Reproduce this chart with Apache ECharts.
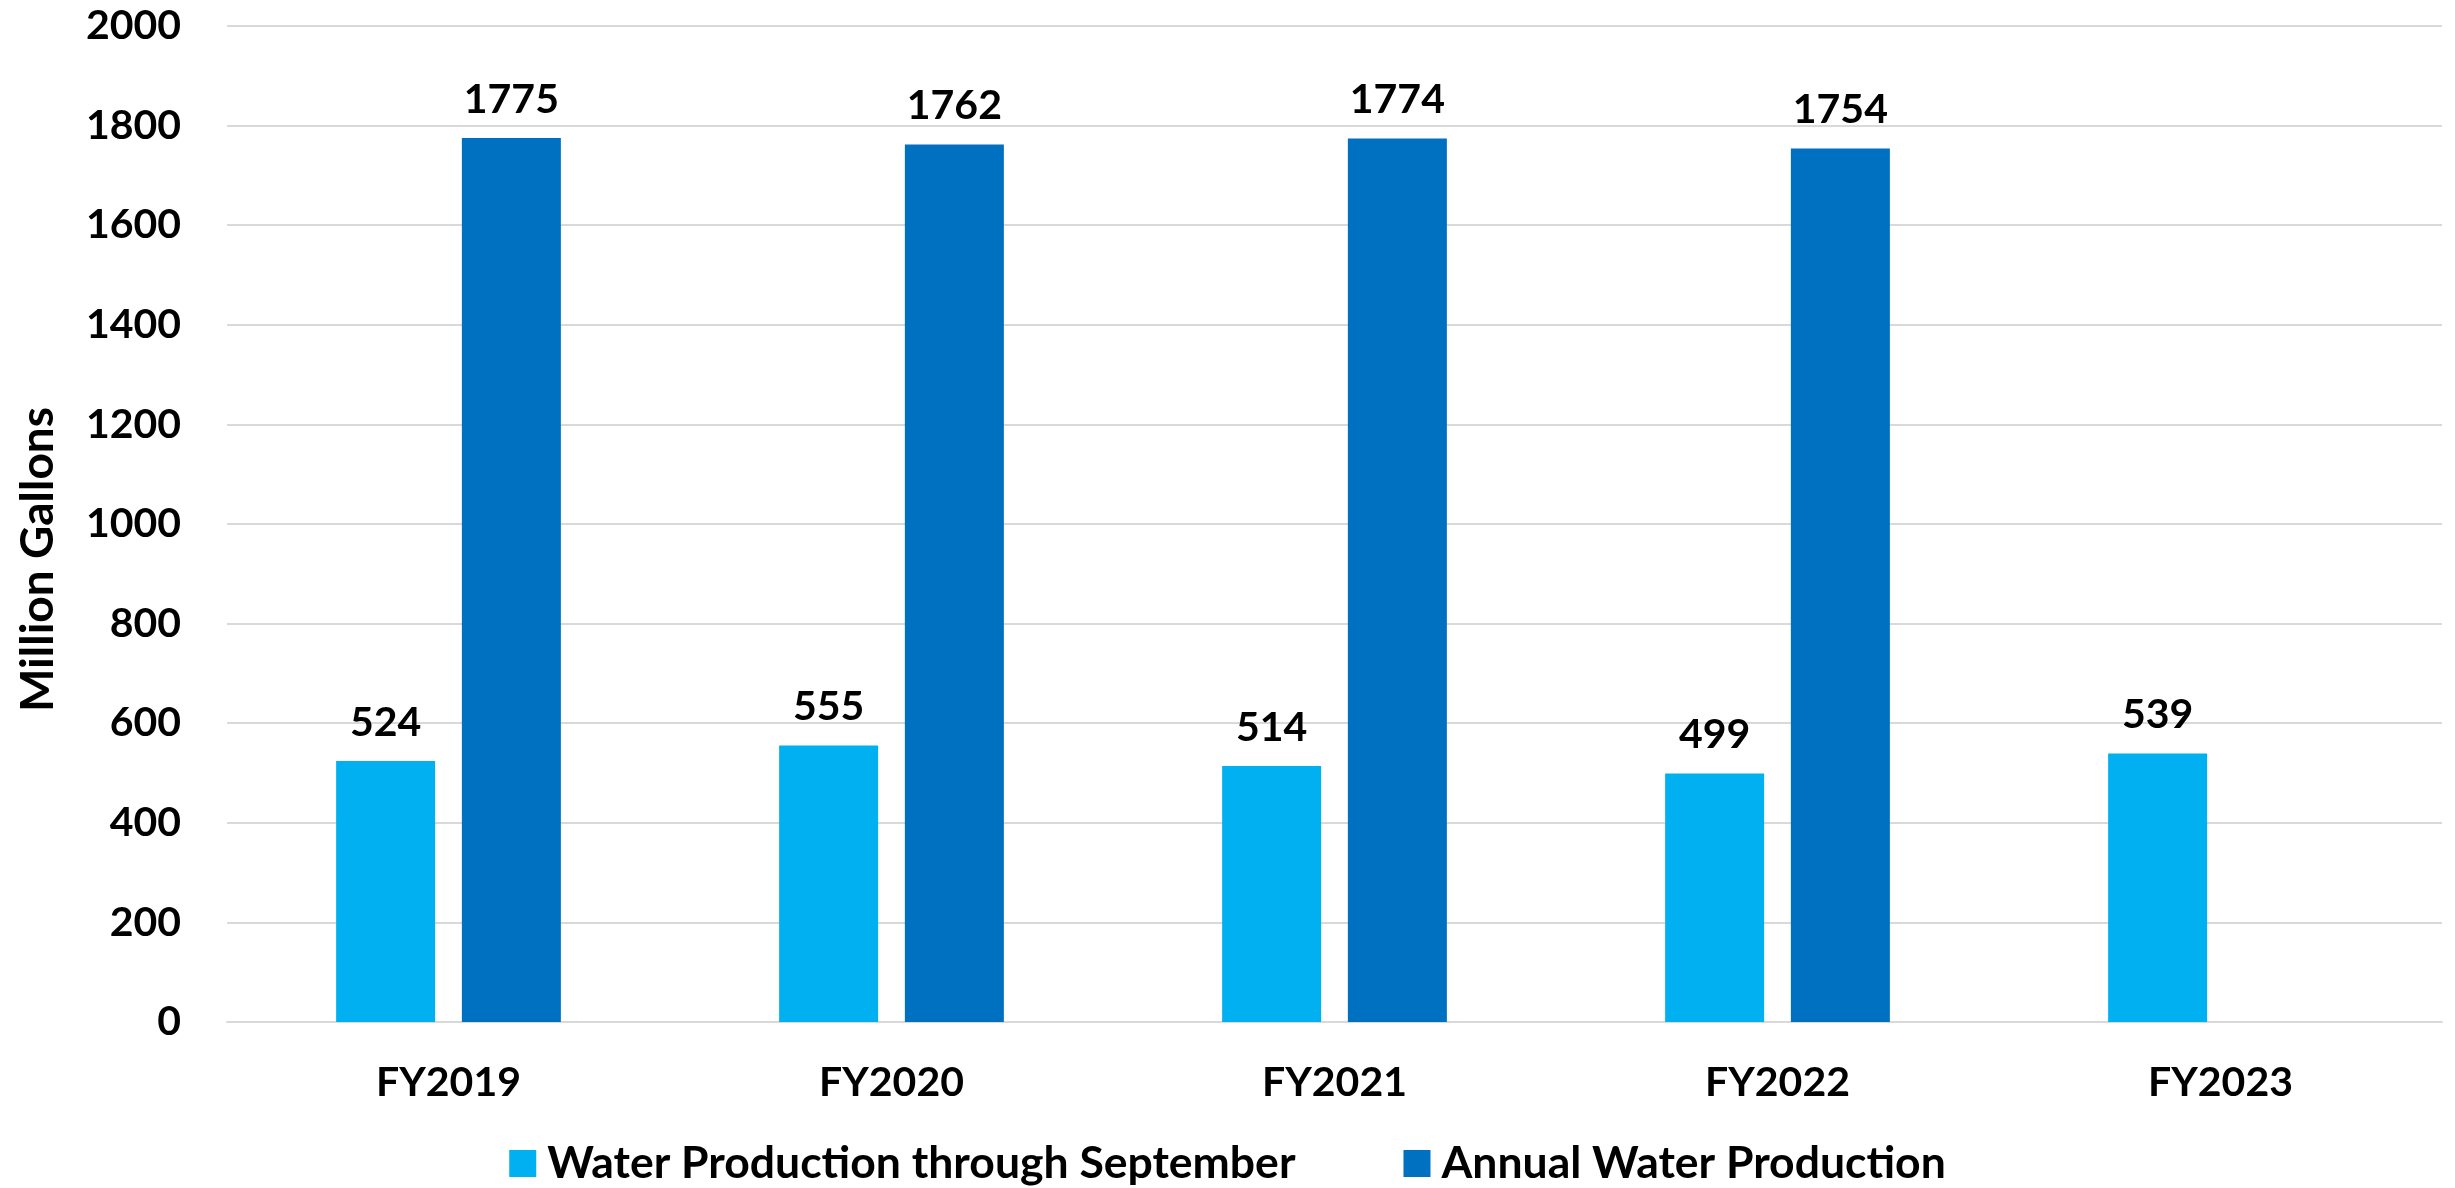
<!DOCTYPE html>
<html>
<head>
<meta charset="utf-8">
<script src="https://cdn.jsdelivr.net/npm/echarts@6/dist/echarts.min.js"></script>
<style>
  html, body { margin: 0; padding: 0; background: #fff; }
  #main { width: 2455px; height: 1188px; }
</style>
</head>
<body>
<div id="main"></div>
<script>
// data
var categories = ["FY2019", "FY2020", "FY2021", "FY2022", "FY2023"];
var throughSeptember = [524, 555, 514, 499, 539];
var annualProduction = [1775, 1762, 1774, 1754, null];
var seriesNames = ["Water Production through September", "Annual Water Production"];

var FONT = "Lato";
var WEIGHT = "bold";
var chart = echarts.init(document.getElementById("main"));

var labelStyle = {
  show: true,
  position: "top",
  distance: 18,
  color: "#000",
  fontFamily: FONT,
  fontWeight: WEIGHT,
  fontSize: 41
};

chart.setOption({
  backgroundColor: "#fff",
  animation: false,
  grid: {
    left: 227,
    right: 13,
    top: 26,
    bottom: 166,
    containLabel: false
  },
  legend: {
    top: 1136,
    left: "center",
    itemWidth: 27,
    itemHeight: 27,
    itemGap: 108,
    icon: "rect",
    textStyle: {
      color: "#000",
      fontFamily: FONT,
      fontWeight: WEIGHT,
      fontSize: 44.5,
      padding: [0, 0, 0, 6]
    },
    data: seriesNames
  },
  graphic: [{
    type: "text",
    left: 15,
    top: 407,
    rotation: Math.PI / 2,
    style: {
      text: "Million Gallons",
      fill: "#000",
      font: WEIGHT + " 46px " + FONT
    }
  }],
  xAxis: {
    type: "category",
    data: categories,
    axisLine: { show: true, lineStyle: { color: "#d9d9d9", width: 2 } },
    axisTick: { show: false },
    axisLabel: {
      margin: 40,
      color: "#000",
      fontFamily: FONT,
      fontWeight: WEIGHT,
      fontSize: 41
    }
  },
  yAxis: {
    type: "value",
    min: 0,
    max: 2000,
    interval: 200,
    axisLine: { show: false },
    axisTick: { show: false },
    splitLine: { lineStyle: { color: "#d9d9d9", width: 2 } },
    axisLabel: {
      margin: 46,
      color: "#000",
      fontFamily: FONT,
      fontWeight: WEIGHT,
      fontSize: 41,
      formatter: function (v) { return String(v); }
    }
  },
  series: [
    {
      name: seriesNames[0],
      type: "bar",
      data: throughSeptember,
      barWidth: 99,
      barGap: "27%",
      itemStyle: { color: "#00B0F0" },
      label: labelStyle
    },
    {
      name: seriesNames[1],
      type: "bar",
      data: annualProduction,
      barWidth: 99,
      barGap: "27%",
      itemStyle: { color: "#0070C0" },
      label: labelStyle
    }
  ]
});
</script>
</body>
</html>
